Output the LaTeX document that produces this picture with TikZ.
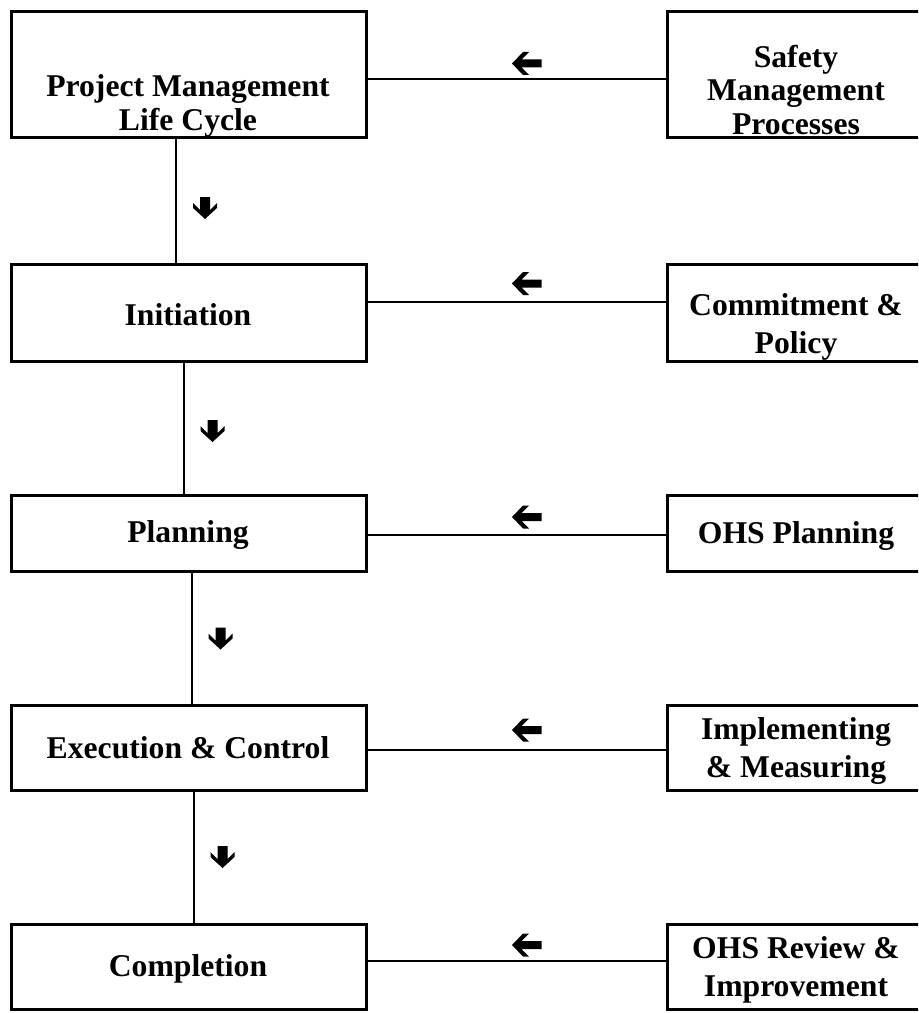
\documentclass[tikz,border=0pt]{standalone}
\usepackage{fontspec}
\setmainfont{Liberation Serif}

\tikzset{
  dnarr/.pic={\fill (0,11) -- (12,0) -- (12,-5) -- (5,2) -- (5,-11) -- (-5,-11) -- (-5,2) -- (-12,-5) -- (-12,0) -- cycle;},
  lfarr/.pic={\fill (-15,0) -- (-4,-11.5) -- (2,-11.5) -- (-5.5,-4) -- (14.5,-4) -- (14.5,4) -- (-5.5,4) -- (2,11.5) -- (-4,11.5) -- cycle;}
}

\begin{document}
\begin{tikzpicture}[x=0.75pt, y=-0.75pt,
  lbox/.style={draw, line width=2.25pt, minimum width=266pt, inner sep=0pt, outer sep=0pt},
  rbox/.style={draw, line width=2.25pt, minimum width=194pt, inner sep=0pt, outer sep=0pt},
  txt/.style={align=center, inner sep=0pt, font=\fontsize{23.75}{28.5}\selectfont\bfseries},
  tight/.style={font=\fontsize{23.75}{25}\selectfont\bfseries},
  link/.style={line width=1.3pt}]
  \path[use as bounding box, clip] (0,0) rectangle (918,1013);

  % life cycle (left)
  \node[lbox, minimum height=94.5pt] (pm) at (189,74.5) {};
  \node[lbox, minimum height=72.75pt] (init) at (189,313) {};
  \node[lbox, minimum height=57pt] (plan) at (189,533.5) {};
  \node[lbox, minimum height=63.75pt] (exec) at (189,748) {};
  \node[lbox, minimum height=63.75pt] (compl) at (189,967) {};

  \node[txt, tight] (pm-t) at (188,106) {Project Management\\Life Cycle};
  \node[txt] (init-t) at (188,315) {Initiation};
  \node[txt] (plan-t) at (188,535) {Planning};
  \node[txt] (exec-t) at (188,748) {Execution \& Control};
  \node[txt] (compl-t) at (188,969) {Completion};

  % safety processes (right)
  \node[rbox, minimum height=94.5pt] (smp) at (796.75,74.5) {};
  \node[rbox, minimum height=72.75pt] (commit) at (796.75,313) {};
  \node[rbox, minimum height=57pt] (ohsplan) at (796.75,533.5) {};
  \node[rbox, minimum height=63.75pt] (impl) at (796.75,748) {};
  \node[rbox, minimum height=63.75pt] (review) at (796.75,967) {};

  \node[txt, tight] (smp-t) at (796,90) {Safety\\Management\\Processes};
  \node[txt] (commit-t) at (796,327) {Commitment \&\\Policy};
  \node[txt] (ohsplan-t) at (796,536) {OHS Planning};
  \node[txt] (impl-t) at (796,751) {Implementing\\\& Measuring};
  \node[txt] (review-t) at (796,970) {OHS Review \&\\Improvement};

  % links
  \draw[link] ([xshift=-9.75pt]pm.south) -- ([xshift=-9.75pt]init.north);
  \draw[link] ([xshift=-3.75pt]init.south) -- ([xshift=-3.75pt]plan.north);
  \draw[link] ([xshift=2.25pt]plan.south) -- ([xshift=2.25pt]exec.north);
  \draw[link] ([xshift=3.75pt]exec.south) -- ([xshift=3.75pt]compl.north);

  \draw[link] ([yshift=-3.4pt]pm.east) -- ([yshift=-3.4pt]smp.west);
  \draw[link] ([yshift=8.25pt]init.east) -- ([yshift=8.25pt]commit.west);
  \draw[link] ([yshift=-1.1pt]plan.east) -- ([yshift=-1.1pt]ohsplan.west);
  \draw[link] ([yshift=-1.5pt]exec.east) -- ([yshift=-1.5pt]impl.west);
  \draw[link] ([yshift=4.5pt]compl.east) -- ([yshift=4.5pt]review.west);

  % arrow marks
  \pic at (205,208) {dnarr};
  \pic at (212.5,431) {dnarr};
  \pic at (220.5,638.5) {dnarr};
  \pic at (222.5,857) {dnarr};

  \pic at (527,63.5) {lfarr};
  \pic at (527,283.5) {lfarr};
  \pic at (527,517) {lfarr};
  \pic at (527,730) {lfarr};
  \pic at (527,945) {lfarr};
\end{tikzpicture}
\end{document}
